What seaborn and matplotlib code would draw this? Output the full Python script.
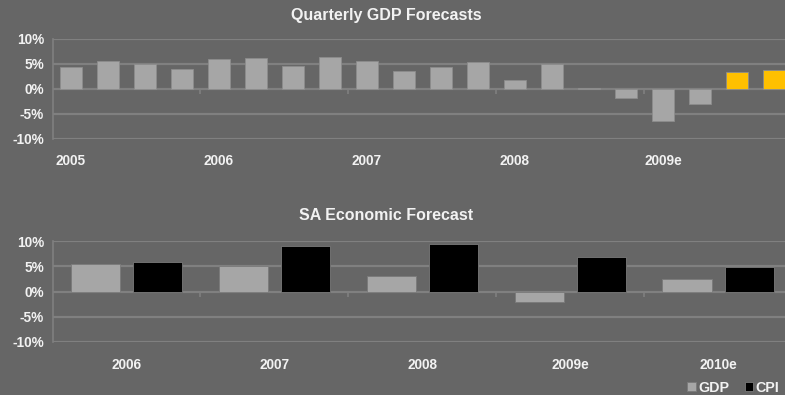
import matplotlib
matplotlib.use("Agg")
import matplotlib.pyplot as plt
import seaborn as sns
import pandas as pd
import numpy as np

# ---------------- data ----------------
quarter_years = ["2005"] * 4 + ["2006"] * 4 + ["2007"] * 4 + ["2008"] * 4 + ["2009e"] * 4
quarter_nums = [1, 2, 3, 4] * 5
gdp_quarterly = [4.3, 5.5, 4.9, 3.9,
                 5.9, 6.1, 4.6, 6.3,
                 5.5, 3.6, 4.4, 5.3,
                 1.7, 5.0, 0.2, -1.9,
                 -6.5, -3.0, 3.3, 3.7]
quarter_kind = ["actual"] * 18 + ["forecast"] * 2

years = ["2006", "2007", "2008", "2009e", "2010e"]
gdp_annual = [5.4, 5.1, 3.1, -2.1, 2.5]
cpi_annual = [5.8, 9.0, 9.5, 6.9, 4.9]

yticks = [-10, -5, 0, 5, 10]

# ---------------- style ----------------
BG = "#666666"
GRID = "#808080"
GRAY = "#A6A6A6"
BLACK = "#000000"
YELLOW = "#FFC000"
TXT = "#F2F2F2"
FS = 9.8

sns.set_theme(style="dark")
plt.rcParams["font.family"] = ["Liberation Sans", "DejaVu Sans"]
plt.rcParams["font.weight"] = "bold"

fig = plt.figure(figsize=(7.85, 3.95), dpi=100)
fig.patch.set_facecolor(BG)

W, H = 785, 395
ax1 = fig.add_axes([52.5 / W, (H - 138.5) / H, (W - 52.5) / W, 100 / H])
ax2 = fig.add_axes([52.5 / W, (H - 341.7) / H, (W - 52.5) / W, 100.4 / H])
TITLE_X = (386 - 52.5) / (W - 52.5)


def style_axis(ax):
    ax.set_facecolor(BG)
    ax.set_ylim(-10, 10)
    ax.set_yticks(yticks)
    ax.set_yticklabels([f"{v}%" for v in yticks], color=TXT, fontsize=FS, fontweight="bold")
    ax.yaxis.grid(True, color=GRID, linewidth=1.6)
    ax.xaxis.grid(False)
    for s in ["top", "right", "bottom"]:
        ax.spines[s].set_visible(False)
    ax.spines["left"].set_visible(True)
    ax.spines["left"].set_color(GRID)
    ax.spines["left"].set_linewidth(1.2)
    ax.tick_params(axis="y", length=4, color=GRID, width=1, pad=2)
    ax.tick_params(axis="x", length=0)
    ax.set_xlabel("")
    ax.set_ylabel("")
    ax.set_axisbelow(True)


def add_boundary_ticks(ax, positions):
    sec = ax.secondary_xaxis(0.5)
    sec.set_xticks(positions)
    sec.set_xticklabels([])
    sec.tick_params(axis="x", length=4, color=GRID, width=1.2, direction="in")
    for s in sec.spines.values():
        s.set_visible(False)
    return sec


# ---------------- top chart ----------------
df_q = pd.DataFrame({
    "q": [f"{y} Q{n}" for y, n in zip(quarter_years, quarter_nums)],
    "year": quarter_years,
    "gdp": gdp_quarterly,
    "kind": quarter_kind,
})
sns.barplot(data=df_q, x="q", y="gdp", hue="kind", dodge=False,
            palette={"actual": GRAY, "forecast": YELLOW}, width=0.6, saturation=1,
            edgecolor="#8C8C8C", linewidth=0.6, legend=False, ax=ax1)
style_axis(ax1)
n_q = len(df_q)
ax1.set_xlim(-0.5, n_q - 0.7)
first_idx = [i for i in range(n_q) if i == 0 or quarter_years[i] != quarter_years[i - 1]]
ax1.set_xticks(first_idx)
ax1.set_xticklabels([quarter_years[i] for i in first_idx], color=TXT, fontsize=FS, fontweight="bold")
ax1.tick_params(axis="x", pad=11)
add_boundary_ticks(ax1, [i - 0.5 for i in first_idx[1:]])
ax1.set_title("Quarterly GDP Forecasts", color=TXT, fontsize=11.5, fontweight="bold",
              pad=13, x=TITLE_X)

# ---------------- bottom chart ----------------
df_a = pd.DataFrame({
    "year": years * 2,
    "value": gdp_annual + cpi_annual,
    "series": ["GDP"] * len(years) + ["CPI"] * len(years),
})
sns.barplot(data=df_a, x="year", y="value", hue="series",
            palette={"GDP": GRAY, "CPI": BLACK}, width=0.84, gap=0.21, saturation=1,
            edgecolor="#7A7A7A", linewidth=0.6, ax=ax2)
style_axis(ax2)
ax2.set_xlim(-0.5, len(years) - 0.5 - 7 / 148)
ax2.set_xticks(range(len(years)))
ax2.set_xticklabels(years, color=TXT, fontsize=FS, fontweight="bold")
ax2.tick_params(axis="x", pad=12)
add_boundary_ticks(ax2, [i + 0.5 for i in range(len(years) - 1)])
ax2.set_title("SA Economic Forecast", color=TXT, fontsize=11.5, fontweight="bold",
              pad=15, x=TITLE_X)

leg = ax2.legend(loc="upper right", bbox_to_anchor=(1.0, -0.33), ncol=2, frameon=False,
                 handlelength=0.6, handleheight=0.6, handletextpad=0.15, columnspacing=1.1,
                 borderaxespad=0, fontsize=FS + 0.5)
for t in leg.get_texts():
    t.set_color(TXT)
    t.set_fontweight("bold")

fig.savefig("out.png", dpi=100, facecolor=BG)
